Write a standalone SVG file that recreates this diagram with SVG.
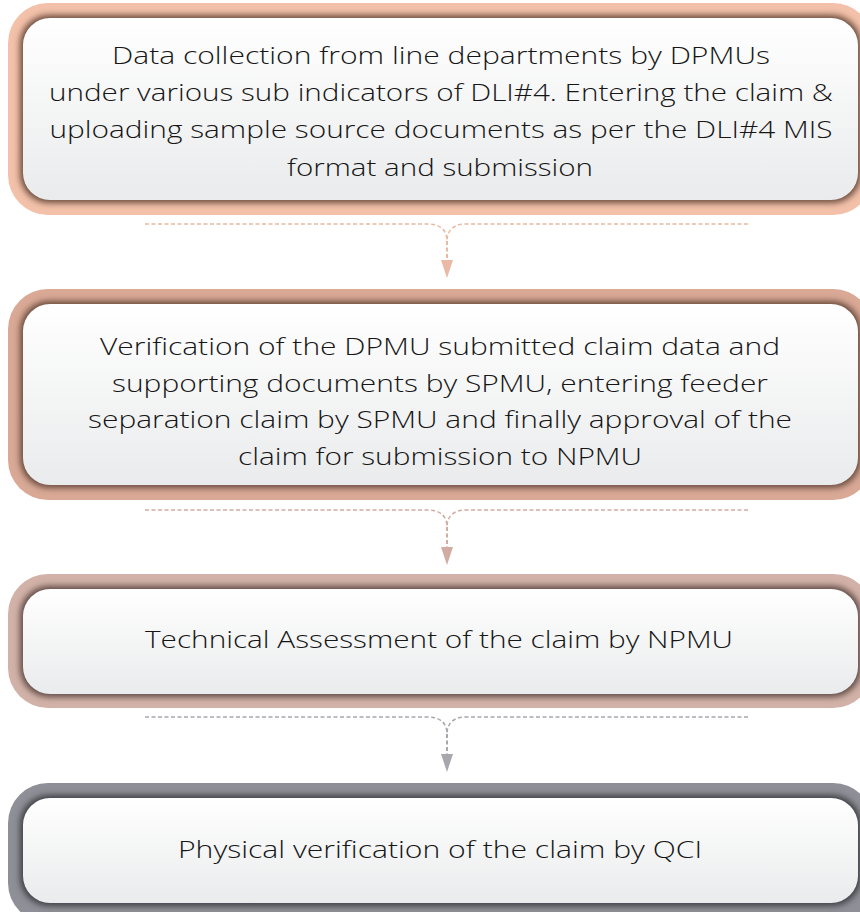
<svg xmlns="http://www.w3.org/2000/svg" width="860" height="912" viewBox="0 0 860 912">
  <style>
    .lbl { font-family: "Open Sans", "Liberation Sans", sans-serif; font-size: 24px; font-weight: 300; fill: #161616; text-anchor: middle; }
    .inner { fill: url(#innerGrad); }
    .conn { fill: none; stroke-width: 1.5; stroke-dasharray: 4 2.5; }
    .stem { fill: none; stroke-width: 2; stroke-dasharray: 4 2.5; }
  </style>
  <defs>
    <linearGradient id="innerGrad" x1="0" y1="0" x2="0" y2="1">
      <stop offset="0" stop-color="#ffffff"/>
      <stop offset="1" stop-color="#eaebec"/>
    </linearGradient>
    <filter id="blur" x="-10%" y="-20%" width="120%" height="140%">
      <feGaussianBlur stdDeviation="3.2"/>
    </filter>
    <marker id="arr1" markerUnits="userSpaceOnUse" markerWidth="18" markerHeight="12" refX="0" refY="6" orient="auto" viewBox="0 0 18 12">
      <path d="M0,0 L18,6 L0,12 z" fill="#e9b9a3"/>
    </marker>
    <marker id="arr2" markerUnits="userSpaceOnUse" markerWidth="18" markerHeight="12" refX="0" refY="6" orient="auto" viewBox="0 0 18 12">
      <path d="M0,0 L18,6 L0,12 z" fill="#d2aca2"/>
    </marker>
    <marker id="arr3" markerUnits="userSpaceOnUse" markerWidth="18" markerHeight="12" refX="0" refY="6" orient="auto" viewBox="0 0 18 12">
      <path d="M0,0 L18,6 L0,12 z" fill="#a7a8ae"/>
    </marker>
  </defs>
  <rect width="860" height="912" fill="#ffffff"/>

  <g id="node1">
    <rect x="8" y="3" width="865" height="212" rx="40" fill="#f3c1a9"/>
    <rect x="20" y="15" width="841" height="188" rx="29" fill="#6b4c3e" filter="url(#blur)"/>
    <rect class="inner" x="23" y="18" width="835" height="182" rx="27"/>
    <text class="lbl" x="441" y="64" textLength="658" lengthAdjust="spacingAndGlyphs">Data collection from line departments by DPMUs</text>
    <text class="lbl" x="441" y="101" textLength="784" lengthAdjust="spacingAndGlyphs">under various sub indicators of DLI#4. Entering the claim &amp;</text>
    <text class="lbl" x="441" y="138" textLength="783" lengthAdjust="spacingAndGlyphs">uploading sample source documents as per the DLI#4 MIS</text>
    <text class="lbl" x="440" y="176" textLength="306" lengthAdjust="spacingAndGlyphs">format and submission</text>
  </g>

  <g id="node2">
    <rect x="8" y="289" width="865" height="211" rx="40" fill="#d9a996"/>
    <rect x="20" y="301" width="841" height="187" rx="29" fill="#6b4c3e" filter="url(#blur)"/>
    <rect class="inner" x="23" y="304" width="835" height="181" rx="27"/>
    <text class="lbl" x="440" y="355" textLength="680" lengthAdjust="spacingAndGlyphs">Verification of the DPMU submitted claim data and</text>
    <text class="lbl" x="440" y="392" textLength="656" lengthAdjust="spacingAndGlyphs">supporting documents by SPMU, entering feeder</text>
    <text class="lbl" x="440" y="428" textLength="704" lengthAdjust="spacingAndGlyphs">separation claim by SPMU and finally approval of the</text>
    <text class="lbl" x="440" y="465" textLength="404" lengthAdjust="spacingAndGlyphs">claim for submission to NPMU</text>
  </g>

  <g id="node3">
    <rect x="8" y="574" width="865" height="134" rx="40" fill="#d2b2a8"/>
    <rect x="20" y="586" width="841" height="111" rx="29" fill="#5e4a44" filter="url(#blur)"/>
    <rect class="inner" x="23" y="589" width="835" height="105" rx="27"/>
    <text class="lbl" x="439" y="648" textLength="588" lengthAdjust="spacingAndGlyphs">Technical Assessment of the claim by NPMU</text>
  </g>

  <g id="node4">
    <rect x="8" y="783" width="865" height="140" rx="40" fill="#8f9097"/>
    <rect x="20" y="795" width="841" height="111" rx="29" fill="#3e3f44" filter="url(#blur)"/>
    <rect class="inner" x="23" y="798" width="835" height="105" rx="27"/>
    <text class="lbl" x="440" y="858" textLength="524" lengthAdjust="spacingAndGlyphs">Physical verification of the claim by QCI</text>
  </g>

  <g id="connectors">
    <g stroke="#e9b9a3">
      <path class="conn" d="M145,224 H428 C440,224 447,230 447,241"/>
      <path class="conn" d="M748,224 H466 C454,224 447,230 447,241"/>
      <path class="stem" d="M447,241 V260" marker-end="url(#arr1)"/>
    </g>
    <g stroke="#d2aca2">
      <path class="conn" d="M145,510 H428 C440,510 447,516 447,527"/>
      <path class="conn" d="M748,510 H466 C454,510 447,516 447,527"/>
      <path class="stem" d="M447,527 V547" marker-end="url(#arr2)"/>
    </g>
    <g stroke="#a7a8ae">
      <path class="conn" d="M145,717 H428 C440,717 447,723 447,734"/>
      <path class="conn" d="M748,717 H466 C454,717 447,723 447,734"/>
      <path class="stem" d="M447,734 V754" marker-end="url(#arr3)"/>
    </g>
  </g>
</svg>
